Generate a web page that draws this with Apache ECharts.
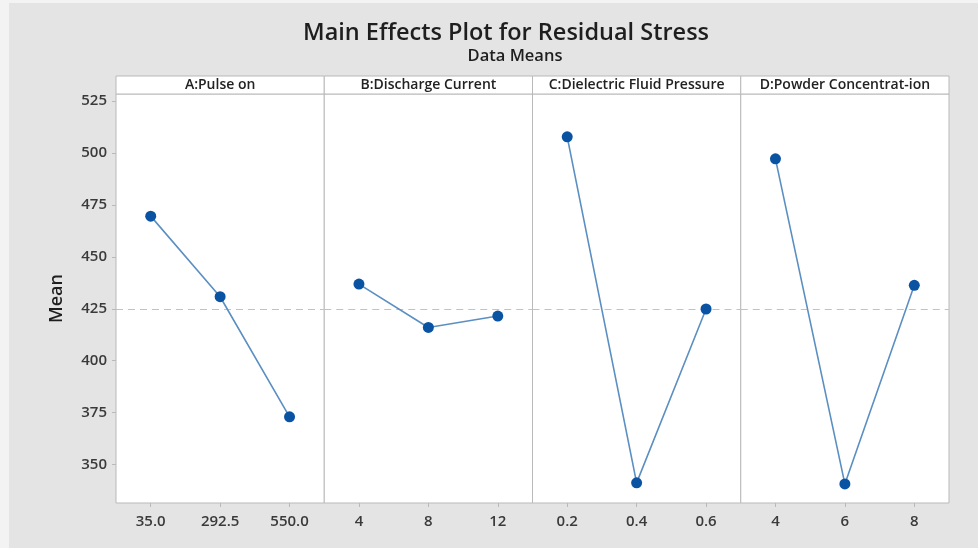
<!DOCTYPE html>
<html>
<head>
<meta charset="utf-8">
<title>Main Effects Plot for Residual Stress</title>
<script src="https://cdn.jsdelivr.net/npm/echarts@6/dist/echarts.min.js"></script>
<style>
  html, body { margin: 0; padding: 0; background: #f3f3f3; }
  #chart { width: 978px; height: 548px; }
</style>
</head>
<body>
<div id="chart"></div>
<script>
// Factor names shown in the panel header strips
const factorNames = ['A:Pulse on', 'B:Discharge Current', 'C:Dielectric Fluid Pressure', 'D:Powder Concentrat-ion'];

// Factor levels (x-axis tick labels for each panel)
const levelsA = ['35.0', '292.5', '550.0'];
const levelsB = ['4', '8', '12'];
const levelsC = ['0.2', '0.4', '0.6'];
const levelsD = ['4', '6', '8'];

// Mean residual stress at each level
const meansA = [469.6, 430.8, 373.0];
const meansB = [436.9, 416.0, 421.5];
const meansC = [507.8, 341.2, 424.9];
const meansD = [497.2, 340.7, 436.3];

// Grand mean (dashed reference line) and y tick labels
const grandMean = 424.6;
const yTicks = [350, 375, 400, 425, 450, 475, 500, 525];
const yRange = [331.5, 528.4];

const levels = [levelsA, levelsB, levelsC, levelsD];
const means = [meansA, meansB, meansC, meansD];

const FONT = '"Open Sans", "Noto Sans", sans-serif';
const plotLeft = 116, plotRight = 949, plotTop = 94, plotBottom = 503, stripTop = 76;
const panelW = (plotRight - plotLeft) / 4;
const borderColor = '#b9b9b9';

const grids = [], xAxes = [], yAxes = [], series = [], graphics = [];

// Outer gray canvas
graphics.push({
  type: 'rect', z: -10, silent: true,
  shape: { x: 9, y: 3, width: 969, height: 545 },
  style: { fill: '#e4e4e4' }
});

for (let i = 0; i < 4; i++) {
  const left = plotLeft + i * panelW;
  grids.push({
    left: left, top: plotTop, width: panelW, height: plotBottom - plotTop,
    show: true, backgroundColor: '#ffffff', borderColor: borderColor, borderWidth: 1
  });
  xAxes.push({
    type: 'category', gridIndex: i, data: levels[i], boundaryGap: true,
    axisLine: { show: false },
    axisTick: { show: true, alignWithLabel: true, length: 4, lineStyle: { color: borderColor } },
    axisLabel: { color: '#3a3a3a', fontFamily: FONT, fontSize: 15, fontWeight: 600, margin: 11 },
    splitLine: { show: false }
  });
  yAxes.push({
    type: 'value', gridIndex: i, min: yRange[0], max: yRange[1],
    axisLine: { show: false },
    axisTick: { show: i === 0, length: 4, customValues: yTicks, lineStyle: { color: borderColor } },
    axisLabel: { show: i === 0, customValues: yTicks, color: '#3a3a3a', fontFamily: FONT, fontSize: 15, fontWeight: 600, margin: 9 },
    splitLine: { show: false },
    name: i === 0 ? 'Mean' : '',
    nameLocation: 'middle', nameGap: 50, nameRotate: 90,
    nameTextStyle: { color: '#1e1e1e', fontFamily: FONT, fontSize: 18, fontWeight: 600 }
  });
  // Level means joined by a line, with the dashed grand-mean line kept underneath
  series.push({
    type: 'line', xAxisIndex: i, yAxisIndex: i, data: means[i], z: 3,
    symbol: 'circle', symbolSize: 11,
    itemStyle: { color: '#0a53a3' },
    lineStyle: { color: '#5b8fc2', width: 1.6 },
    silent: true, animation: false,
    markLine: {
      z: 1,
      silent: true, symbol: 'none', label: { show: false },
      lineStyle: { color: '#c2c2c2', type: [7, 5], width: 1 },
      data: [{ yAxis: grandMean }]
    }
  });
  // Header strip with factor name
  graphics.push({
    type: 'rect', silent: true, z: 5,
    shape: { x: left, y: stripTop, width: panelW, height: plotTop - stripTop },
    style: { fill: '#ffffff', stroke: borderColor, lineWidth: 1 }
  });
  graphics.push({
    type: 'text', silent: true, z: 6,
    x: left + panelW / 2, y: (stripTop + plotTop) / 2 + 0.5,
    style: {
      text: factorNames[i], fill: '#222', font: '600 14px ' + FONT,
      align: 'center', verticalAlign: 'middle'
    }
  });
}

const chart = echarts.init(document.getElementById('chart'), null, { renderer: 'canvas' });
chart.setOption({
  backgroundColor: '#f3f3f3',
  animation: false,
  title: [
    { text: 'Main Effects Plot for Residual Stress', left: 501, top: 16, textAlign: 'center',
      textStyle: { color: '#1e1e1e', fontFamily: FONT, fontSize: 23.5, fontWeight: 600 } },
    { text: 'Data Means', left: 510, top: 43, textAlign: 'center',
      textStyle: { color: '#1e1e1e', fontFamily: FONT, fontSize: 16.5, fontWeight: 600 } }
  ],
  grid: grids,
  xAxis: xAxes,
  yAxis: yAxes,
  series: series,
  graphic: graphics
});
</script>
</body>
</html>
